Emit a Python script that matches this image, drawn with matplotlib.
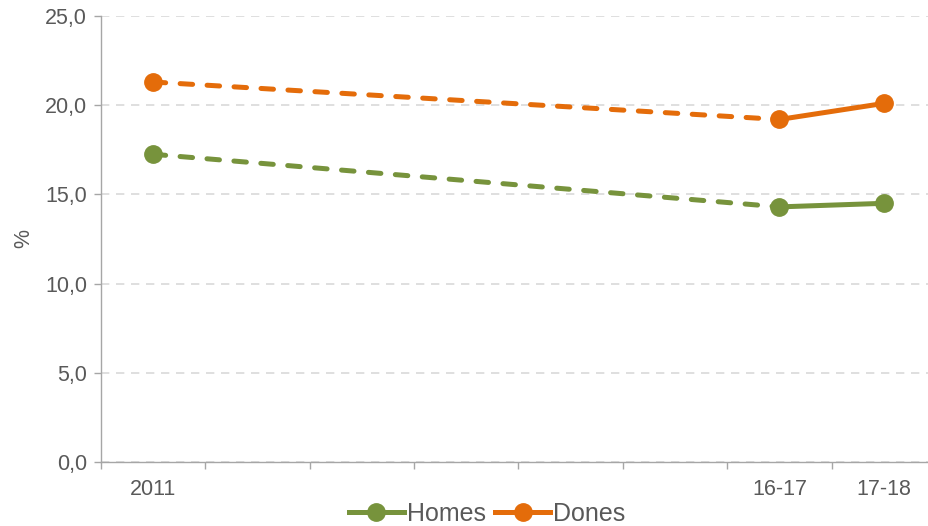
import numpy as np
import matplotlib
matplotlib.use("Agg")
import matplotlib.pyplot as plt
from matplotlib.lines import Line2D

plt.rcParams['font.family'] = ['Liberation Sans', 'DejaVu Sans']

categories = ['2011', '', '', '', '', '', '16-17', '17-18']
homes = [17.25, np.nan, np.nan, np.nan, np.nan, np.nan, 14.3, 14.5]
dones = [21.3, np.nan, np.nan, np.nan, np.nan, np.nan, 19.2, 20.1]
yticks = [0, 5, 10, 15, 20, 25]

green = '#77933C'
orange = '#E46C0A'
txt = '#595959'
W, H = 929, 526
fig = plt.figure(figsize=(W / 100, H / 100), dpi=100)
ax = fig.add_axes([101 / W, (H - 462) / H, (929 - 101) / W, 446 / H])

x = np.arange(len(categories))
lw = 3.6
ms = 12.5
fs = 15.5
lfs = 18

def draw(vals, color):
    v = np.array(vals, dtype=float)
    idx = np.where(~np.isnan(v))[0]
    ax.plot(x[idx[:-1]], v[idx[:-1]], color=color, lw=lw, ls=(0, (2.5, 2.9)),
            dash_capstyle='round', zorder=3)
    ax.plot(x[idx[-2:]], v[idx[-2:]], color=color, lw=lw, solid_capstyle='round', zorder=3)
    ax.plot(x[idx], v[idx], ls='none', marker='o', ms=ms, color=color, zorder=4)

draw(homes, green)
draw(dones, orange)

ax.set_xlim(-0.5, 7.5 - 7 / 104.4)
ax.set_ylim(0, 25)
ax.set_yticks(yticks)
ax.set_yticklabels([f"{t:.1f}".replace('.', ',') for t in yticks])
ax.set_xticks(x)
ax.set_xticklabels(categories)
ax.set_xticks(np.arange(-0.5, 7.0, 1.0), minor=True)
ax.tick_params(axis='x', which='major', length=0, pad=12, labelsize=fs, labelcolor=txt)
ax.tick_params(axis='x', which='minor', length=5, width=1, color='#A6A6A6', direction='out')
ax.tick_params(axis='y', length=5, width=1, color='#A6A6A6', pad=5, labelsize=fs, labelcolor=txt)

ax.grid(axis='y', color='#D9D9D9', lw=1.2, ls=(0, (5, 4)))
ax.set_axisbelow(True)
for s in ['top', 'right']:
    ax.spines[s].set_visible(False)
for s in ['left', 'bottom']:
    ax.spines[s].set_color('#A6A6A6')
    ax.spines[s].set_linewidth(1)

ax.set_ylabel('%', fontsize=fs, color=txt, labelpad=8)

handles = [Line2D([], [], color=green, lw=lw, marker='o', ms=ms),
           Line2D([], [], color=orange, lw=lw, marker='o', ms=ms)]
fig.legend(handles, ['Homes', 'Dones'], loc='center', bbox_to_anchor=(487 / W, 12 / H),
           ncol=2, frameon=False, fontsize=lfs, labelcolor=txt, handlelength=2.2,
           handletextpad=0.12, columnspacing=0.37, borderaxespad=0, borderpad=0)

fig.savefig('out.png', dpi=100)
